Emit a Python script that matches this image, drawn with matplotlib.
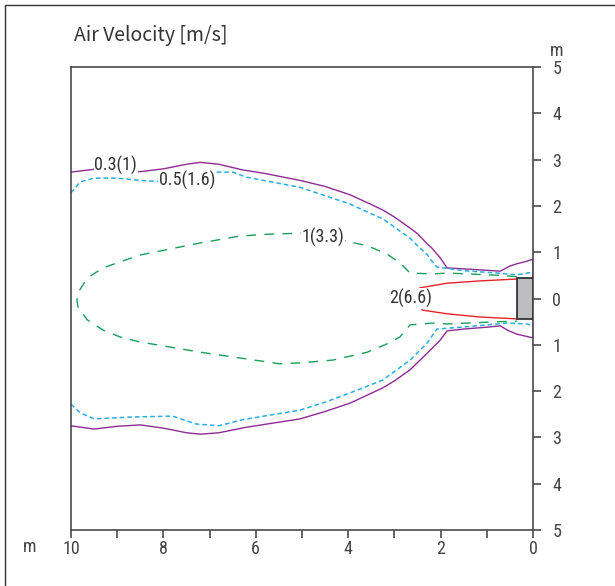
import matplotlib
matplotlib.use("Agg")
import matplotlib.pyplot as plt
from matplotlib import font_manager
from matplotlib.patches import Rectangle
from matplotlib.lines import Line2D


def pick_font(names):
    # first installed family from the list
    for n in names:
        try:
            font_manager.findfont(n, fallback_to_default=False)
            return n
        except ValueError:
            pass
    return "DejaVu Sans"


narrow = pick_font(["Liberation Sans Narrow", "Roboto Condensed", "Noto Sans"])
title_font = pick_font(["Noto Sans CJK KR", "Noto Sans"])

# contour lines, x = distance [m], y = offset [m]
# 0.3 m/s (1 m/s)
x_03 = [10.0, 9.5, 9.0, 8.5, 8.0, 7.5, 7.2, 6.8, 6.3, 5.8, 5.04, 4.5, 3.96, 3.5, 3.25, 3.0,
        2.66, 2.5, 2.29, 2.2, 2.01, 1.86, 1.5, 1.0, 0.71, 0.5, 0.35, 0.15, 0.0,
        0.0, 0.35, 0.56, 0.71, 1.0, 1.5, 1.86, 2.01, 2.29, 2.66, 3.0, 3.25, 3.96, 4.5, 5.04,
        6.2, 6.8, 7.2, 7.5, 8.0, 8.5, 9.0, 9.5, 10.0]
y_03 = [2.73, 2.79, 2.75, 2.74, 2.80, 2.90, 2.94, 2.90, 2.78, 2.70, 2.55, 2.42, 2.24, 2.03, 1.91, 1.76,
        1.52, 1.40, 1.18, 1.10, 0.88, 0.66, 0.64, 0.61, 0.59, 0.70, 0.75, 0.80, 0.85,
        -0.85, -0.77, -0.68, -0.59, -0.62, -0.66, -0.70, -0.90, -1.18, -1.54, -1.78, -1.93, -2.26, -2.44, -2.60,
        -2.78, -2.90, -2.93, -2.90, -2.80, -2.73, -2.76, -2.82, -2.75]

# 0.5 m/s (1.6 m/s)
x_05 = [10.0, 9.8, 9.5, 9.0, 8.5, 8.0, 7.5, 7.1, 6.5, 6.2, 5.04, 4.5, 3.96, 3.59, 3.25, 2.66,
        2.5, 2.29, 2.2, 2.08, 1.5, 0.76, 0.35, 0.0]
y_05 = [2.28, 2.52, 2.60, 2.60, 2.55, 2.52, 2.60, 2.73, 2.73, 2.62, 2.40, 2.22, 2.04, 1.87, 1.72, 1.30,
        1.14, 0.95, 0.82, 0.68, 0.60, 0.55, 0.51, 0.57]
x_05_low = [10.0, 9.8, 9.5, 8.7, 7.8, 7.3, 6.8, 6.3, 5.04, 4.5, 3.96, 3.25, 2.66, 2.29, 2.08,
            1.43, 0.56, 0.13, 0.0]
y_05_low = [-2.28, -2.47, -2.60, -2.56, -2.54, -2.71, -2.75, -2.62, -2.41, -2.24, -2.04, -1.76, -1.33, -0.96, -0.66,
            -0.61, -0.53, -0.55, -0.59]

# 1 m/s (3.3 m/s)
x_1 = [0.35, 0.71, 1.86, 2.16, 2.66, 2.88, 3.16, 3.59, 3.96, 4.33, 4.89, 5.04, 5.7, 6.34, 7.2, 8.5, 8.94,
       9.31, 9.65, 9.85, 9.87, 9.85, 9.65, 9.31, 8.94, 8.5, 7.2, 5.48, 5.04, 4.33, 3.59, 3.16,
       2.88, 2.66, 2.16, 1.86, 0.71, 0.35]
y_1 = [0.47, 0.50, 0.55, 0.53, 0.55, 0.77, 0.96, 1.14, 1.22, 1.32, 1.39, 1.41, 1.39, 1.35, 1.20, 0.94, 0.79,
       0.66, 0.44, 0.12, -0.03, -0.18, -0.46, -0.68, -0.83, -0.94, -1.16, -1.41, -1.39, -1.33, -1.16, -0.98,
       -0.83, -0.57, -0.53, -0.55, -0.50, -0.49]

# 2 m/s (6.6 m/s)
x_2 = [0.35, 1.15, 1.86, 2.45, 2.40, 1.86, 1.15, 0.35]
y_2 = [0.42, 0.38, 0.33, 0.23, -0.25, -0.33, -0.40, -0.44]

labels = ["0.3(1)", "0.5(1.6)", "1(3.3)", "2(6.6)"]
label_x = [9.03, 7.49, 4.55, 2.64]
label_y = [2.88, 2.54, 1.33, 0.0]

# outlet box
box_x, box_w = 0.0, 0.35
box_y, box_h = -0.45, 0.90

yticks = [5, 4, 3, 2, 1, 0, -1, -2, -3, -4, -5]
xticks = [10, 8, 6, 4, 2, 0]

fig = plt.figure(figsize=(6.15, 5.86), dpi=100)
ax = fig.add_axes([71 / 615, 56 / 586, 462 / 615, 463 / 586])

purple = "#8e2c93"
cyan = "#27aee3"
green = "#17a05a"
red = "#e8232b"

ax.plot(x_03, y_03, color=purple, lw=1.0)
ax.plot(x_05, y_05, color=cyan, lw=1.1, dashes=(3, 2))
ax.plot(x_05_low, y_05_low, color=cyan, lw=1.1, dashes=(3, 2))
ax.plot(x_1, y_1, color=green, lw=1.0, dashes=(7, 6))
ax.plot(x_2, y_2, color=red, lw=1.0)

ax.add_patch(Rectangle((box_x, box_y), box_w, box_h, facecolor="#bcbdc0",
                       edgecolor="#333333", lw=1.3, zorder=4))

for t, lx, ly in zip(labels, label_x, label_y):
    ax.text(lx, ly, t, ha="center", va="center", fontsize=13, family=narrow,
            color="#333333", zorder=5,
            bbox=dict(boxstyle="square,pad=0.05", fc="white", ec="none"))

ax.set_xlim(10, 0)
ax.set_ylim(-5, 5)
ax.set_xticks(xticks)
ax.set_xticklabels([str(v) for v in xticks])
ax.set_xticks([9, 7, 5, 3, 1], minor=True)
ax.set_yticks(yticks)
ax.set_yticklabels([str(abs(v)) for v in yticks])
ax.yaxis.tick_right()

for s in ax.spines.values():
    s.set_color("#4a4a4a")
    s.set_linewidth(1.2)

ax.tick_params(axis="y", which="both", direction="out", length=6, width=1.2,
               color="#4a4a4a", pad=8, labelsize=13, labelcolor="#444444")
ax.tick_params(axis="x", which="both", direction="out", length=5.5, width=1.2,
               color="#4a4a4a", pad=2, labelsize=13, labelcolor="#444444")
for lab in ax.get_xticklabels() + ax.get_yticklabels():
    lab.set_family(narrow)

# unit marks
fig.text(557 / 615, 1 - 51 / 586, "m", ha="center", va="center", fontsize=13,
         family=narrow, color="#444444")
fig.text(30 / 615, 1 - 547 / 586, "m", ha="center", va="center", fontsize=13,
         family=narrow, color="#444444")

fig.text(74 / 615, 1 - 35 / 586, "Air Velocity [m/s]", ha="left", va="center",
         fontsize=14, family=title_font, color="#333333")

# frame round the figure (top and left edges)
fig.add_artist(Line2D([5 / 615, 5 / 615, 1], [0, 1 - 5 / 586, 1 - 5 / 586],
                      transform=fig.transFigure, color="#333333", lw=1.0))

fig.savefig("out.png", dpi=100)
